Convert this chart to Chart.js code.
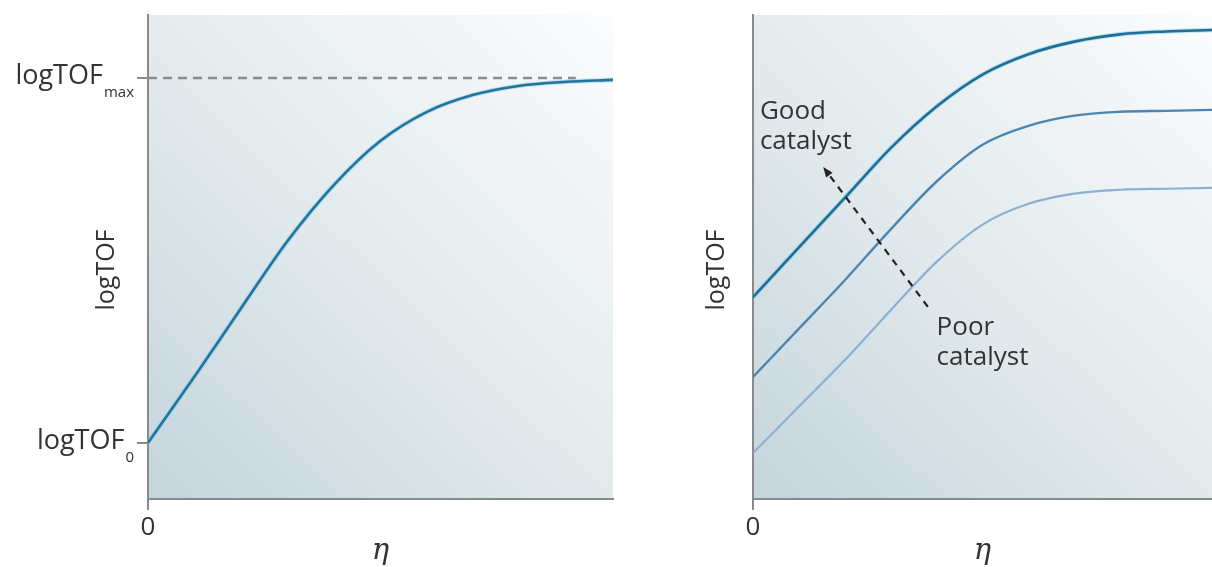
<!DOCTYPE html>
<html>
<head>
<meta charset="utf-8">
<script src="https://cdn.jsdelivr.net/npm/chart.js@4.4.0/dist/chart.umd.min.js"></script>
<style>
  html, body { margin: 0; padding: 0; background: #fff; }
  #wrap { position: relative; width: 1212px; height: 567px; overflow: hidden; }
  #leftChart { position: absolute; left: 0; top: 0; }
  #rightChart { position: absolute; left: 640px; top: 0; }
</style>
</head>
<body>
<div id="wrap">
  <canvas id="leftChart" width="640" height="567"></canvas>
  <canvas id="rightChart" width="572" height="567"></canvas>
</div>
<script>
// overpotential (arbitrary units, 0..10)
const eta = [0, 1, 2, 3, 4, 5, 6, 7, 8, 9, 10];

// left panel: single catalyst, logTOF in arbitrary units (0..100)
const logTOFSingle = [11.6, 25.3, 39.4, 53.3, 64.9, 74.0, 80.0, 83.5, 85.4, 86.2, 86.6];
const logTOF0 = 11.6;
const logTOFmax = 87.0;
const maxLineEnd = 9.2;

// right panel: three catalysts
const logTOFGood = [41.7, 52.0, 62.2, 72.5, 81.1, 87.7, 91.9, 94.5, 96.0, 96.6, 96.9];
const logTOFMid  = [25.2, 35.2, 45.2, 55.7, 65.6, 73.2, 77.1, 79.2, 80.0, 80.2, 80.4];
const logTOFPoor = [9.5, 19.1, 28.7, 39.0, 49.0, 56.7, 61.0, 63.1, 63.9, 64.1, 64.3];

// arrow from poor to good catalyst: [eta, logTOF] tail, head
const arrowTail = [3.81, 39.7];
const arrowHead = [1.53, 68.6];

const xTicks = [0];
const leftYTicks = [logTOF0, logTOFmax];

const axisGrey = '#8a8a8a';
const textColor = '#333333';
const sans = '"Open Sans", "Noto Sans", sans-serif';

function pts(ys) {
    return eta.map((x, i) => ({ x: x, y: ys[i] }));
}

// gradient panel behind the plot
const panelBackground = {
    id: 'panelBackground',
    beforeDraw(chart) {
        const { ctx, chartArea: a } = chart;
        const g = ctx.createLinearGradient(a.left, a.bottom, a.right, a.top);
        g.addColorStop(0, '#c4d5dc');
        g.addColorStop(0.45, '#e1e9ec');
        g.addColorStop(1, '#fbfcfd');
        ctx.save();
        ctx.fillStyle = g;
        ctx.fillRect(a.left, a.top, a.right - a.left, a.bottom - a.top);
        ctx.restore();
    }
};

function drawYTitle(chart, cx) {
    const { ctx, chartArea: a } = chart;
    ctx.save();
    ctx.translate(cx, (a.top + a.bottom) / 2 + 13);
    ctx.rotate(-Math.PI / 2);
    ctx.font = '25px ' + sans;
    ctx.fillStyle = textColor;
    ctx.textAlign = 'center';
    ctx.textBaseline = 'middle';
    ctx.fillText('logTOF', 0, 0);
    ctx.restore();
}

function drawSubLabel(ctx, main, sub, right, y) {
    ctx.font = '15px ' + sans;
    const subW = ctx.measureText(sub).width;
    ctx.textAlign = 'left';
    ctx.textBaseline = 'alphabetic';
    ctx.fillText(sub, right - subW, y + 19);
    ctx.font = '27px ' + sans;
    ctx.textAlign = 'right';
    ctx.fillText(main, right - subW - 1, y + 6);
}

const leftLabels = {
    id: 'leftLabels',
    afterDraw(chart) {
        const { ctx } = chart;
        const ys = chart.scales.y;
        ctx.save();
        ctx.fillStyle = textColor;
        drawSubLabel(ctx, 'logTOF', 'max', 134, ys.getPixelForValue(logTOFmax));
        drawSubLabel(ctx, 'logTOF', '0', 134, ys.getPixelForValue(logTOF0));
        ctx.restore();
        drawYTitle(chart, 107);
    }
};

const rightLabels = {
    id: 'rightLabels',
    afterDraw(chart) {
        const { ctx } = chart;
        const xs = chart.scales.x, ys = chart.scales.y;
        ctx.save();
        ctx.fillStyle = textColor;
        ctx.font = '26px ' + sans;
        ctx.textAlign = 'left';
        ctx.textBaseline = 'alphabetic';
        const gx = xs.getPixelForValue(0.15);
        ctx.fillText('Good', gx, ys.getPixelForValue(78.5));
        ctx.fillText('catalyst', gx, ys.getPixelForValue(72.3));
        const px = xs.getPixelForValue(4.0);
        ctx.fillText('Poor', px, ys.getPixelForValue(33.9));
        ctx.fillText('catalyst', px, ys.getPixelForValue(27.7));

        // dashed arrow
        const x1 = xs.getPixelForValue(arrowTail[0]), y1 = ys.getPixelForValue(arrowTail[1]);
        const x2 = xs.getPixelForValue(arrowHead[0]), y2 = ys.getPixelForValue(arrowHead[1]);
        const ang = Math.atan2(y2 - y1, x2 - x1);
        const head = 11;
        ctx.strokeStyle = '#222';
        ctx.lineWidth = 2.2;
        ctx.setLineDash([7, 6]);
        ctx.beginPath();
        ctx.moveTo(x1, y1);
        ctx.lineTo(x2 - Math.cos(ang) * head * 0.8, y2 - Math.sin(ang) * head * 0.8);
        ctx.stroke();
        ctx.setLineDash([]);
        ctx.fillStyle = '#222';
        ctx.beginPath();
        ctx.moveTo(x2, y2);
        ctx.lineTo(x2 - head * Math.cos(ang - 0.38), y2 - head * Math.sin(ang - 0.38));
        ctx.lineTo(x2 - head * Math.cos(ang + 0.38), y2 - head * Math.sin(ang + 0.38));
        ctx.closePath();
        ctx.fill();
        ctx.restore();
        drawYTitle(chart, 717 - 640);
    }
};

function curve(ys, color, width) {
    return {
        data: pts(ys),
        borderColor: color,
        borderWidth: width,
        pointRadius: 0,
        cubicInterpolationMode: 'monotone',
        fill: false
    };
}

function scalesFor(yTickVals, yTickLen, leftWidth) {
    return {
        x: {
            type: 'linear',
            min: 0,
            max: 10,
            afterBuildTicks: (axis) => { axis.ticks = xTicks.map(v => ({ value: v })); },
            afterFit: (axis) => { axis.height = 68; },
            border: { display: true, color: axisGrey, width: 2 },
            grid: { drawOnChartArea: false, color: axisGrey, lineWidth: 2, tickLength: 11 },
            ticks: { color: textColor, font: { family: sans, size: 26 }, padding: 2 },
            title: {
                display: true,
                text: 'η',
                color: textColor,
                font: { family: '"DejaVu Serif", "Liberation Serif", serif', size: 29, style: 'italic', lineHeight: 1 },
                padding: { top: 0, bottom: 1 }
            }
        },
        y: {
            type: 'linear',
            min: 0,
            max: 100,
            afterBuildTicks: (axis) => { axis.ticks = yTickVals.map(v => ({ value: v })); },
            afterFit: (axis) => { axis.width = leftWidth; },
            border: { display: true, color: axisGrey, width: 2 },
            grid: { drawOnChartArea: false, color: axisGrey, lineWidth: 2, tickLength: yTickLen, drawTicks: yTickLen > 0 },
            ticks: { display: false }
        }
    };
}

const commonOptions = {
    responsive: false,
    animation: false,
    events: [],
    plugins: { legend: { display: false }, tooltip: { enabled: false } }
};

// Left chart: single catalyst with logTOF0 and logTOFmax
// (datasets listed first are drawn on top)
new Chart(document.getElementById('leftChart').getContext('2d'), {
    type: 'line',
    data: {
        datasets: [
            curve(logTOFSingle, '#23739c', 2.6),
            curve(logTOFSingle, 'rgba(110, 200, 235, 0.45)', 4.6),
            {
                data: [{ x: 0, y: logTOFmax }, { x: maxLineEnd, y: logTOFmax }],
                borderColor: '#8c8c8c',
                borderWidth: 2.5,
                borderDash: [9, 6],
                pointRadius: 0
            }
        ]
    },
    options: Object.assign({}, commonOptions, {
        layout: { padding: { top: 15, right: 27, left: 0, bottom: 0 } },
        scales: scalesFor(leftYTicks, 11, 148)
    }),
    plugins: [panelBackground, leftLabels]
});

// Right chart: good vs poor catalysts
new Chart(document.getElementById('rightChart').getContext('2d'), {
    type: 'line',
    data: {
        datasets: [
            curve(logTOFGood, '#1f6e94', 2.6),
            curve(logTOFGood, 'rgba(110, 200, 235, 0.45)', 4.6),
            curve(logTOFMid, '#4b86b2', 2.4),
            curve(logTOFPoor, '#8bb1d2', 2.2)
        ]
    },
    options: Object.assign({}, commonOptions, {
        layout: { padding: { top: 15, right: 0, left: 0, bottom: 0 } },
        scales: scalesFor([], 0, 113)
    }),
    plugins: [panelBackground, rightLabels]
});
</script>
</body>
</html>
